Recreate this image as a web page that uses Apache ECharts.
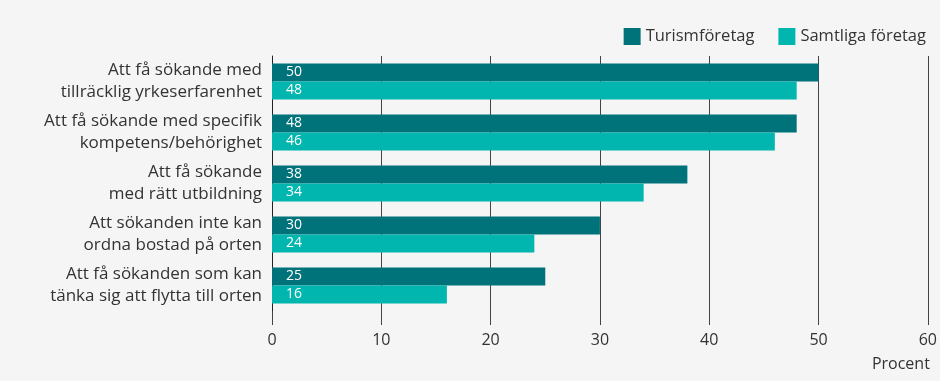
<!DOCTYPE html>
<html><head><meta charset="utf-8">
<script src="https://cdn.jsdelivr.net/npm/echarts@6/dist/echarts.min.js"></script>
<style>html,body{margin:0;padding:0;background:#f5f5f5}#c{width:940px;height:381px}</style>
</head><body><div id="c"></div>
<script>
const categories = [
  "Att få sökande med\ntillräcklig yrkeserfarenhet",
  "Att få sökande med specifik\nkompetens/behörighet",
  "Att få sökande\nmed rätt utbildning",
  "Att sökanden inte kan\nordna bostad på orten",
  "Att få sökanden som kan\ntänka sig att flytta till orten"
];
const turism = [50, 48, 38, 30, 25];
const samtliga = [48, 46, 34, 24, 16];
const seriesNames = ["Turismföretag", "Samtliga företag"];
const xTicks = [0, 10, 20, 30, 40, 50, 60];

const font = "'Open Sans', sans-serif";
const chart = echarts.init(document.getElementById('c'), null, {renderer: 'canvas'});
chart.setOption({
  backgroundColor: '#f5f5f5',
  animation: false,
  textStyle: {fontFamily: font},
  legend: {
    right: 9, top: 23, itemWidth: 17, itemHeight: 17, itemGap: 24,
    icon: 'rect',
    textStyle: {fontSize: 16.5, color: '#333', fontFamily: font},
    data: seriesNames
  },
  grid: {left: 272, right: 12, top: 56, height: 255, containLabel: false},
  xAxis: {
    type: 'value', min: xTicks[0], max: xTicks[xTicks.length - 1], interval: 10,
    name: 'Procent', nameLocation: 'end',
    nameGap: 0,
    nameTextStyle: {fontSize: 16, color: '#333', align: 'right', verticalAlign: 'top', padding: [45, -2, 0, 0]},
    axisLine: {show: false},
    axisTick: {show: true, length: 14, lineStyle: {color: '#444', width: 1}},
    axisLabel: {fontSize: 16, color: '#333', margin: 21},
    splitLine: {show: true, lineStyle: {color: '#444', width: 1}}
  },
  yAxis: {
    type: 'category', inverse: true, data: categories,
    axisLine: {show: true, lineStyle: {color: '#222', width: 1}},
    axisTick: {show: false},
    axisLabel: {fontSize: 17, color: '#333', lineHeight: 22, margin: 10, align: 'right'}
  },
  series: [
    {
      name: seriesNames[0], type: 'bar', data: turism, barWidth: 18, barGap: '0%',
      itemStyle: {color: '#00737a'},
      label: {show: true, position: 'insideLeft', distance: 14, color: '#fff', fontSize: 14, fontFamily: font}
    },
    {
      name: seriesNames[1], type: 'bar', data: samtliga, barWidth: 18, barGap: '0%',
      itemStyle: {color: '#00b6ae'},
      label: {show: true, position: 'insideLeft', distance: 14, color: '#fff', fontSize: 14, fontFamily: font}
    }
  ]
});
</script></body></html>
